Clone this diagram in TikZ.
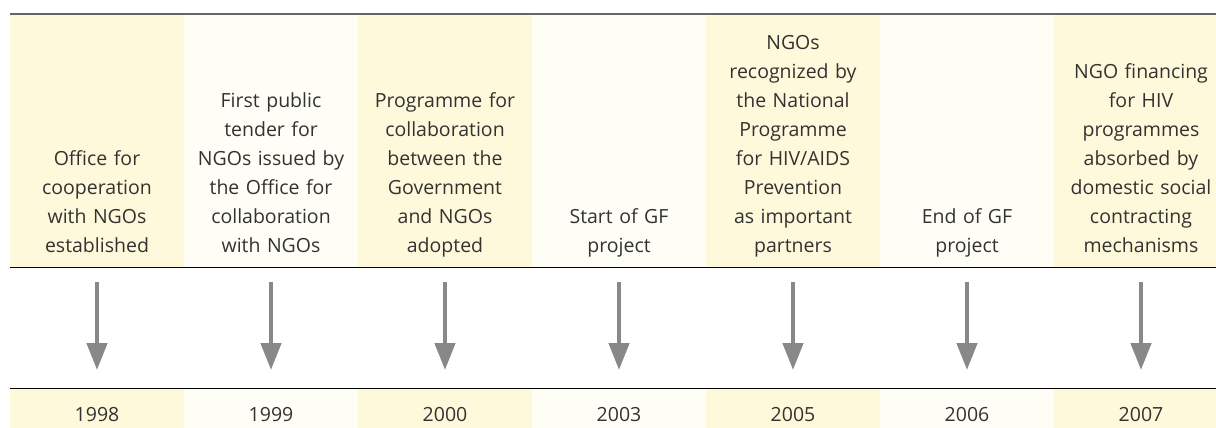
\documentclass[tikz,border=0pt]{standalone}
\usepackage{fontspec}
\setmainfont{Open Sans}
\usetikzlibrary{arrows.meta}
\definecolor{dayel}{RGB}{255,249,219}
\definecolor{ltyel}{RGB}{255,254,246}
\definecolor{txtgray}{RGB}{50,50,50}
\definecolor{arrgray}{RGB}{136,136,136}
\begin{document}
\begin{tikzpicture}[x=1pt,y=-1pt, every node/.style={text=txtgray,font=\fontsize{19.5}{29}\selectfont,inner sep=0pt},
  event/.style={anchor=south,text width=170pt,align=center},
  yearlbl/.style={anchor=base},
  downarr/.style={draw=arrgray,line width=4.6pt,-{Triangle[length=27pt,width=20pt]}}]
\useasboundingbox (0,0) rectangle (1216,428);
% column fills
\fill[dayel] (10,14) rectangle (184,267); \fill[dayel] (10,388) rectangle (184,428);
\fill[ltyel] (184,14) rectangle (358,267); \fill[ltyel] (184,388) rectangle (358,428);
\fill[dayel] (358,14) rectangle (532,267); \fill[dayel] (358,388) rectangle (532,428);
\fill[ltyel] (532,14) rectangle (706,267); \fill[ltyel] (532,388) rectangle (706,428);
\fill[dayel] (706,14) rectangle (880,267); \fill[dayel] (706,388) rectangle (880,428);
\fill[ltyel] (880,14) rectangle (1054,267); \fill[ltyel] (880,388) rectangle (1054,428);
\fill[dayel] (1054,14) rectangle (1216,267); \fill[dayel] (1054,388) rectangle (1216,428);
\draw[line width=1.4pt,draw=black!60] (10,14) -- (1216,14);
\draw[line width=0.9pt] (10,267) -- (1216,267);
\draw[line width=0.9pt] (10,388) -- (1216,388);
% events
\node[event] (ev1) at (97,261) {Office for\\cooperation\\with NGOs\\established\strut};
\node[event] (ev2) at (271,261) {First public\\tender for\\NGOs issued by\\the Office for\\collaboration\\with NGOs\strut};
\node[event] (ev3) at (445,261) {Programme for\\collaboration\\between the\\Government\\and NGOs\\adopted\strut};
\node[event] (ev4) at (619,261) {Start of GF\\project\strut};
\node[event] (ev5) at (793,261) {NGOs\\recognized by\\the National\\Programme\\for HIV/AIDS\\Prevention\\as important\\partners\strut};
\node[event] (ev6) at (967,261) {End of GF\\project\strut};
\node[event] (ev7) at (1141,261) {NGO financing\\for HIV\\programmes\\absorbed by\\domestic social\\contracting\\mechanisms\strut};
% years
\node[yearlbl] (yr1) at (97,421) {1998};
\node[yearlbl] (yr2) at (271,421) {1999};
\node[yearlbl] (yr3) at (445,421) {2000};
\node[yearlbl] (yr4) at (619,421) {2003};
\node[yearlbl] (yr5) at (793,421) {2005};
\node[yearlbl] (yr6) at (967,421) {2006};
\node[yearlbl] (yr7) at (1141,421) {2007};
% arrows
\coordinate (s1) at (97,282); \coordinate (t1) at (97,370); \draw[downarr] (s1) -- (t1);
\coordinate (s2) at (271,282); \coordinate (t2) at (271,370); \draw[downarr] (s2) -- (t2);
\coordinate (s3) at (445,282); \coordinate (t3) at (445,370); \draw[downarr] (s3) -- (t3);
\coordinate (s4) at (619,282); \coordinate (t4) at (619,370); \draw[downarr] (s4) -- (t4);
\coordinate (s5) at (793,282); \coordinate (t5) at (793,370); \draw[downarr] (s5) -- (t5);
\coordinate (s6) at (967,282); \coordinate (t6) at (967,370); \draw[downarr] (s6) -- (t6);
\coordinate (s7) at (1141,282); \coordinate (t7) at (1141,370); \draw[downarr] (s7) -- (t7);
\end{tikzpicture}
\end{document}
